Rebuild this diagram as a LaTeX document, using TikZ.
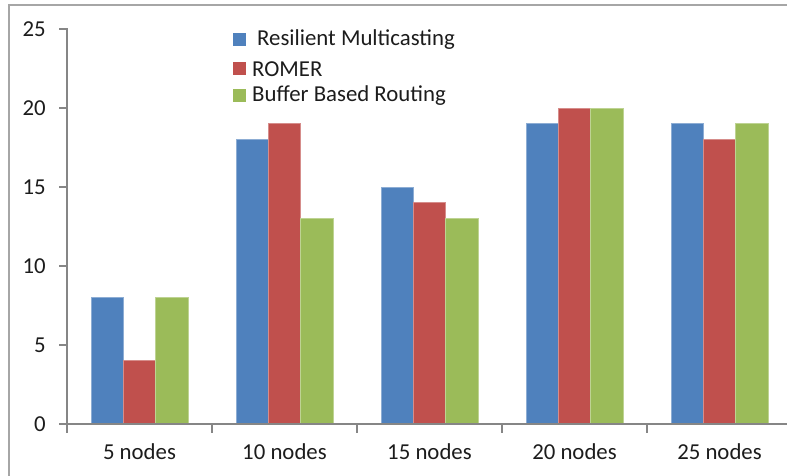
\documentclass[tikz,border=0pt]{standalone}
\usepackage{fontspec}
\setmainfont{Carlito}
\definecolor{ink}{HTML}{1C1C1C}
\definecolor{axisgray}{HTML}{868686}
\definecolor{framegray}{HTML}{A6A6A6}
\definecolor{rmblue}{HTML}{4F81BD}
\definecolor{romred}{HTML}{C0504D}
\definecolor{bbrgreen}{HTML}{9BBB59}

\begin{document}
\begin{tikzpicture}[
  x=1pt,y=1pt,
  font=\fontsize{22.8}{26}\selectfont,
  line cap=rect,
  bar/.style={draw=#1!65!white,line width=.6pt,fill=#1},
  axisline/.style={draw=axisgray,line width=1.1pt},
  ticklabel/.style={text=ink,inner sep=0pt},
  keybox/.style={minimum size=13pt,inner sep=0pt,draw=none}
]
\useasboundingbox (-67,-52) rectangle (720,424);

% outer chart frame (runs past the right and lower edge)
\draw[draw=framegray,line width=1.6pt] (-58,-80) rectangle (760,419);

% bars: 15.8pt per unit, 145pt per category
\foreach \k/\a/\b/\c in {0/8/4/8,1/18/19/13,2/15/14/13,3/19/20/20,4/19/18/19}{
  \draw[bar=rmblue]   (145*\k+24,0)    rectangle ++(32.3,15.8*\a);
  \draw[bar=romred]   (145*\k+56.3,0)  rectangle ++(32.3,15.8*\b);
  \draw[bar=bbrgreen] (145*\k+88.6,0)  rectangle ++(32.3,15.8*\c);
}

% axes and ticks
\draw[axisline] (0,-8) -- (0,395);
\draw[axisline] (0,0) -- (725,0);
\foreach \v in {0,5,...,25}{
  \draw[axisline] (-7,15.8*\v) -- (0,15.8*\v);
  \node[ticklabel,anchor=east] (ylab\v) at (-21,15.8*\v) {\v};
}
\foreach \k in {1,...,5}
  \draw[axisline] (145*\k,0) -- (145*\k,-8);

% category labels
\foreach \k/\n in {0/5,1/10,2/15,3/20,4/25}
  \node[ticklabel] (cat\n) at (145*\k+72.5,-28) {\n{} nodes};

% legend
\node[keybox,fill=rmblue]   (keyrm)  at (172.5,384) {};
\node[keybox,fill=romred]   (keyrom) at (172.5,355) {};
\node[keybox,fill=bbrgreen] (keybbr) at (172.5,328) {};
\node[ticklabel,anchor=west] (txtrm)  at (190,384) {Resilient Multicasting};
\node[ticklabel,anchor=west] (txtrom) at (185,355) {ROMER};
\node[ticklabel,anchor=west] (txtbbr) at (185,328) {Buffer Based Routing};

\end{tikzpicture}
\end{document}
